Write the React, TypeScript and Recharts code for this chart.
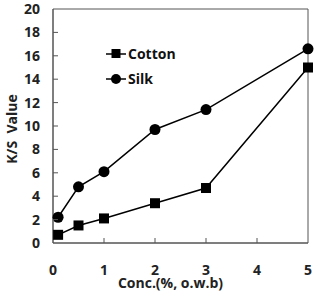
import React from 'react';
import { LineChart, Line, XAxis, YAxis, ReferenceArea } from 'recharts';

const concentrations = [0.1, 0.5, 1, 2, 3, 5];
const cottonValues = [0.7, 1.5, 2.1, 3.4, 4.7, 15.0];
const silkValues = [2.2, 4.8, 6.1, 9.7, 11.4, 16.6];
const seriesNames = ['Cotton', 'Silk'];
const xTicks = [0, 1, 2, 3, 4, 5];
const yTicks = [0, 2, 4, 6, 8, 10, 12, 14, 16, 18, 20];

const data = concentrations.map((c, i) => ({ conc: c, cotton: cottonValues[i], silk: silkValues[i] }));

const FONT = '"Open Sans", sans-serif';
const AXIS = '#555';
const X_MARGIN = 27;
const Y_MARGIN = 13;

const XTick = (props: any) => {
  const { x, y, payload } = props;
  const v = payload.value;
  const ay = y - X_MARGIN;
  return (
    <g>
      {v !== 0 && v !== 5 && <line x1={x} y1={ay} x2={x} y2={ay - 5} stroke={AXIS} strokeWidth={1} />}
      <text x={x} y={y} dy="0.35em" textAnchor="middle" fontFamily={FONT} fontWeight="bold" fontSize={14} fill="#222">{v}</text>
    </g>
  );
};

const YTick = (props: any) => {
  const { x, y, payload } = props;
  const v = payload.value;
  const ax = x + Y_MARGIN;
  return (
    <g>
      {v !== 0 && v !== 20 && <line x1={ax} y1={y} x2={ax + 5} y2={y} stroke={AXIS} strokeWidth={1} />}
      <text x={x} y={y} dy="0.35em" textAnchor="end" fontFamily={FONT} fontWeight="bold" fontSize={14} fill="#222">{v}</text>
    </g>
  );
};

const SquareDot = (props: any) => {
  const { cx, cy } = props;
  return <rect x={cx - 5} y={cy - 5} width={10} height={10} fill="#000" />;
};

const CircleDot = (props: any) => {
  const { cx, cy } = props;
  return <circle cx={cx} cy={cy} r={5.5} fill="#000" />;
};

const LegendBox = () => (
  <svg width={80} height={50} style={{ position: 'absolute', left: 104, top: 44 }}>
    {seriesNames.map((name, i) => {
      const cy = 10 + i * 25;
      return (
        <g key={name}>
          <line x1={2} y1={cy} x2={22} y2={cy} stroke="#000" strokeWidth={1.5} />
          {i === 0 ? <rect x={7.5} y={cy - 5} width={9} height={9} fill="#000" /> : <circle cx={12} cy={cy} r={5} fill="#000" />}
          <text x={24} y={cy} dy="0.35em" fontFamily={FONT} fontWeight="bold" fontSize={14} fill="#111">{name}</text>
        </g>
      );
    })}
  </svg>
);

export default function App() {
  return (
    <div style={{ position: 'absolute', left: 0, top: 0, width: 315, height: 294, background: '#fff' }}>
      <LineChart width={315} height={294} data={data} margin={{ top: 9, right: 7, bottom: 0, left: 0 }}>
        <XAxis
          dataKey="conc"
          type="number"
          domain={[0, 5]}
          ticks={xTicks}
          interval={0}
          height={51}
          tickSize={0}
          tickMargin={X_MARGIN}
          tick={<XTick />}
          axisLine={{ stroke: AXIS }}
          label={{ value: 'Conc.(%, o.w.b)', position: 'insideBottom', offset: 6, dx: -10, style: { fontFamily: FONT, fontWeight: 'bold', fontSize: 14, fill: '#222' } }}
        />
        <YAxis
          type="number"
          domain={[0, 20]}
          ticks={yTicks}
          interval={0}
          width={53}
          tickSize={0}
          tickMargin={Y_MARGIN}
          tick={<YTick />}
          axisLine={{ stroke: AXIS }}
          label={{ value: 'K/S\u00A0\u00A0Value', angle: -90, position: 'center', dx: -14, dy: 3, style: { fontFamily: FONT, fontWeight: 'bold', fontSize: 14, fill: '#222' } }}
        />
        <ReferenceArea x1={0} x2={5} y1={0} y2={20} fill="none" stroke={AXIS} strokeWidth={1} />
        <Line dataKey="cotton" name={seriesNames[0]} stroke="#000" strokeWidth={1.5} dot={<SquareDot />} isAnimationActive={false} />
        <Line dataKey="silk" name={seriesNames[1]} stroke="#000" strokeWidth={1.5} dot={<CircleDot />} isAnimationActive={false} />
      </LineChart>
      <LegendBox />
    </div>
  );
}
